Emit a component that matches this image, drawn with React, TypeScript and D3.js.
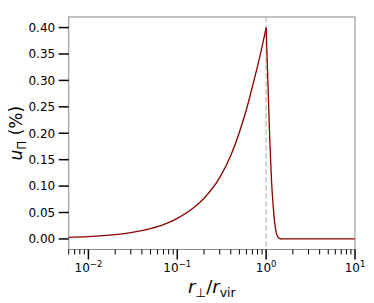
import { line, scaleLinear, scaleLog, curveMonotoneX } from 'd3'

const W = 374
const H = 303

// profile
const radius = [0.006, 0.01, 0.02, 0.03, 0.05, 0.07, 0.1, 0.15, 0.2, 0.3, 0.4, 0.5, 0.6, 0.7, 0.8, 0.9, 1.0,
  1.05, 1.1, 1.15, 1.2, 1.25, 1.3, 1.35, 1.4, 1.5, 2, 5, 10]
const uPi = [0.0028, 0.0042, 0.008, 0.0118, 0.0195, 0.027, 0.039, 0.058, 0.077, 0.116, 0.158, 0.202, 0.245, 0.288, 0.327, 0.364, 0.4,
  0.29, 0.185, 0.11, 0.062, 0.03, 0.012, 0.004, 0.001, 0, 0, 0, 0]

const yTicks = [0, 0.05, 0.1, 0.15, 0.2, 0.25, 0.3, 0.35, 0.4]
const xExps = [-2, -1, 0, 1]

export default function App() {
  const m = { left: 68.7, right: 355, top: 17, bottom: 249.5 }
  const x = scaleLog().domain([0.006, 10]).range([m.left, m.right])
  const y = scaleLinear().domain([-0.02, 0.42]).range([m.bottom, m.top])

  const pts = radius.map((r, i) => ({ r, u: uPi[i] }))
  const peak = uPi.indexOf(Math.max(...uPi))
  const gen = line<{ r: number; u: number }>()
    .x((d) => x(d.r))
    .y((d) => y(d.u))
    .curve(curveMonotoneX)
  const rise = gen(pts.slice(0, peak + 1)) ?? ''
  const fall = gen(pts.slice(peak)) ?? ''

  const minors: number[] = []
  for (let e = -3; e <= 1; e++) {
    for (let k = 2; k <= 9; k++) {
      const v = k * Math.pow(10, e)
      if (v >= 0.006 && v <= 10) minors.push(v)
    }
  }

  const font = 'DejaVu Sans, sans-serif'

  return (
    <svg width={W} height={H} style={{ position: 'absolute', left: 0, top: 0 }} fontFamily={font}>
      <rect width={W} height={H} fill="#fff" />
      <line x1={x(1)} x2={x(1)} y1={m.top} y2={m.bottom} stroke="#cccccc" strokeWidth={1.5} strokeDasharray="5.5,2.5" />
      <path d={rise} fill="none" stroke="#8b0000" strokeWidth={1.3} />
      <path d={fall} fill="none" stroke="#8b0000" strokeWidth={1.3} />
      <rect x={m.left} y={m.top} width={m.right - m.left} height={m.bottom - m.top} fill="none" stroke="#888" strokeWidth={1} />

      {yTicks.map((t) => (
        <g key={t}>
          <line x1={m.left - 10} x2={m.left} y1={y(t)} y2={y(t)} stroke="#000" strokeWidth={1.5} />
          <text x={m.left - 13.5} y={y(t)} dy="0.36em" textAnchor="end" fontSize={12}>{t.toFixed(2)}</text>
        </g>
      ))}

      {minors.map((v) => (
        <line key={v} x1={x(v)} x2={x(v)} y1={m.bottom} y2={m.bottom + 5} stroke="#000" strokeWidth={1} />
      ))}
      {xExps.map((e) => (
        <g key={e}>
          <line x1={x(Math.pow(10, e))} x2={x(Math.pow(10, e))} y1={m.bottom} y2={m.bottom + 10} stroke="#000" strokeWidth={1.5} />
          <text x={x(Math.pow(10, e))} y={272} textAnchor="middle" fontSize={12}>
            10<tspan dy={-5} fontSize={8.5}>{e < 0 ? '\u2212' + Math.abs(e) : String(e)}</tspan>
          </text>
        </g>
      ))}

      <text x={(m.left + m.right) / 2} y={293} textAnchor="middle" fontSize={18}>
        <tspan fontStyle="italic">r</tspan>
        <tspan dy={4} fontSize={12.5}>⊥</tspan>
        <tspan dy={-4}>/</tspan>
        <tspan fontStyle="italic">r</tspan>
        <tspan dy={4} fontSize={12.5}>vir</tspan>
      </text>

      <text transform={`translate(22, ${(m.top + m.bottom) / 2}) rotate(-90)`} textAnchor="middle" fontSize={17}>
        <tspan fontStyle="italic">u</tspan>
        <tspan dy={3.5} fontSize={12}>Π</tspan>
        <tspan dy={-3.5}> (%)</tspan>
      </text>
    </svg>
  )
}
